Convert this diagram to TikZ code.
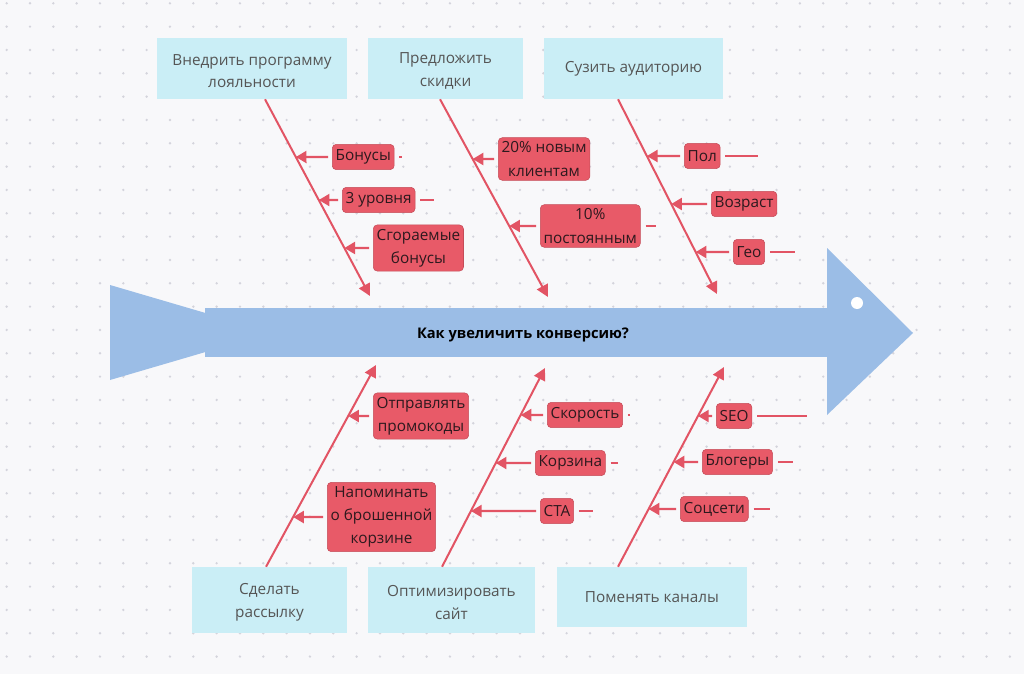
\documentclass[tikz,border=0pt]{standalone}
\usepackage{fontspec}
\setmainfont{Open Sans}
\usepackage{tikz}
\usetikzlibrary{arrows.meta,positioning}
\definecolor{bgc}{RGB}{248,248,250}
\definecolor{dotc}{RGB}{212,212,220}
\definecolor{fish}{RGB}{155,189,230}
\definecolor{causec}{RGB}{202,238,246}
\definecolor{causet}{RGB}{85,85,85}
\definecolor{bonec}{RGB}{226,84,100}
\definecolor{tagc}{RGB}{232,90,104}
\definecolor{tagt}{RGB}{45,25,30}
\tikzset{
  cause/.style={fill=causec,text=causet,align=center,inner sep=0pt,font=\fontsize{11.5}{17}\selectfont},
  tag/.style={fill=tagc,draw=tagc!85!black,line width=0.4pt,rounded corners=3pt,text=tagt,align=center,
    anchor=west,inner xsep=2.5pt,inner ysep=3pt,minimum height=19pt,font=\fontsize{11.5}{17.5}\selectfont},
  bone/.style={bonec,line width=1.5pt,-{Triangle[length=9pt,width=9pt]}},
  twig/.style={bonec,line width=1.7pt,-{Triangle[length=8pt,width=9pt]},shorten <=3pt},
  stub/.style={bonec,line width=1.5pt}
}
\begin{document}
\begin{tikzpicture}[x=0.75pt,y=-0.75pt]
  \fill[bgc] (0,0) rectangle (1024,674);
  \foreach \i in {0,...,43} \foreach \j in {0,...,28} \fill[dotc] (6.67+23.33*\i,3.33+23.33*\j) circle[radius=1pt];
  % fish
  \fill[fish] (110,285) -- (272,332.5) -- (110,380) -- cycle;
  \fill[fish] (205,308) rectangle (830,357);
  \fill[fish] (827,248) -- (913,333) -- (827,415) -- cycle;
  \fill[white] (857,303) circle[radius=4.5pt];
  \node[font=\bfseries\fontsize{11}{14}\selectfont] (goal) at (523,335) {Как увеличить конверсию?};
  % causes
  \node[cause,minimum width=142.5pt,minimum height=45.75pt] (loyal) at (252,68.5) {\strut Внедрить программу\\лояльности};
  \node[cause,minimum width=116.25pt,minimum height=45.75pt] (disc) at (445.5,68.5) {\strut Предложить\\скидки};
  \node[cause,minimum width=134.25pt,minimum height=45.75pt,text depth=3pt] (aud) at (633.5,68.5) {Сузить аудиторию};
  \node[cause,minimum width=116.25pt,minimum height=49.5pt] (mail) at (269.5,600) {\strut Сделать\\рассылку};
  \node[cause,minimum width=125.25pt,minimum height=49.5pt] (site) at (451.5,600) {\strut Оптимизировать\\сайт};
  \node[cause,minimum width=142.5pt,minimum height=45pt] (chan) at (652,597) {Поменять каналы};
  % bones
  \coordinate (s1) at ([xshift=9.75pt]loyal.south);  \coordinate (h1) at (370,296);
  \coordinate (s2) at ([xshift=-4.1pt]disc.south);   \coordinate (h2) at (548,297);
  \coordinate (s3) at ([xshift=-11.6pt]aud.south);   \coordinate (h3) at (717,294);
  \coordinate (s4) at ([xshift=-2.6pt]mail.north);   \coordinate (h4) at (376,365);
  \coordinate (s5) at ([xshift=-7.1pt]site.north);   \coordinate (h5) at (545,368);
  \coordinate (s6) at ([xshift=-25.5pt]chan.north);  \coordinate (h6) at (724,367);
  \foreach \b in {1,...,6} \draw[bone] (s\b) -- (h\b);
  % sub-causes
  \node[tag] (bon) at (332,157) {Бонусы};
  \node[tag] (lvl) at (342,200) {3 уровня};
  \node[tag] (burn) at (373,248) {Сгораемые\\бонусы};
  \node[tag] (new) at (498,159) {20\% новым\\клиентам};
  \node[tag] (reg) at (540,226) {10\%\\постоянным};
  \node[tag] (sex) at (684,156) {Пол};
  \node[tag] (age) at (711,204) {Возраст};
  \node[tag] (geo) at (733,252) {Гео};
  \node[tag] (promo) at (373,416) {Отправлять\\промокоды};
  \node[tag] (cart) at (327,517) {Напоминать\\о брошенной\\корзине};
  \node[tag] (speed) at (547,415) {Скорость};
  \node[tag] (bask) at (535,463) {Корзина};
  \node[tag] (cta) at (540,511) {CTA};
  \node[tag] (seo) at (716,416) {SEO};
  \node[tag] (blog) at (702,462) {Блогеры};
  \node[tag] (soc) at (680,509) {Соцсети};
  \foreach \n/\b in {bon/1,lvl/1,burn/1,new/2,reg/2,sex/3,age/3,geo/3,promo/4,cart/4,speed/5,bask/5,cta/5,seo/6,blog/6,soc/6}
    \draw[twig] (\n) -- (intersection cs: first line={(s\b)--(h\b)}, second line={(\n.west)--(\n.east)});
  \foreach \n/\l in {bon/3,lvl/14,reg/10,sex/33,geo/25,speed/2,bask/7,cta/14,seo/50,blog/15,soc/16}
    \draw[stub] ([xshift=3.75pt]\n.east) -- ++(\l,0);
\end{tikzpicture}
\end{document}
